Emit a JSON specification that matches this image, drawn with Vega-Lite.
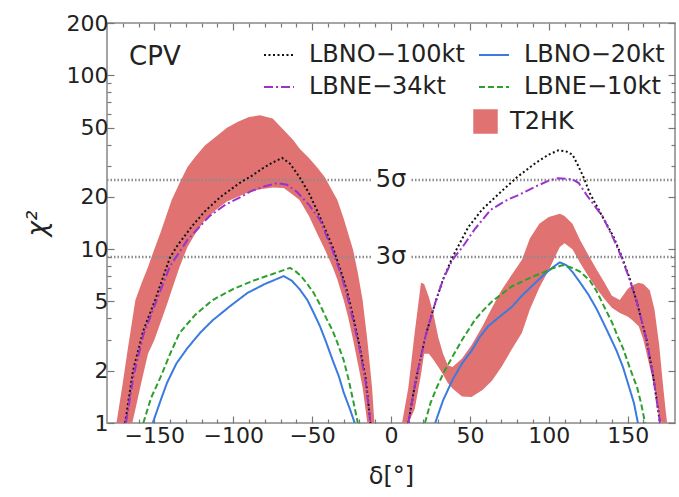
{
  "$schema": "https://vega.github.io/schema/vega-lite/v6.json",
  "width": 568,
  "height": 400,
  "autosize": {"type": "none"},
  "padding": {"left": 107, "top": 23, "right": 4, "bottom": 74},
  "config": {
    "font": "DejaVu Sans",
    "view": {"stroke": "#888888", "strokeWidth": 1.5},
    "axis": {"domain": false, "grid": false, "labelFont": "DejaVu Sans", "labelFontSize": 22, "labelColor": "#222222", "tickColor": "#777777", "tickWidth": 1.2, "titleFont": "DejaVu Sans", "titleFontWeight": "normal", "titleColor": "#222222"}
  },
  "datasets": {
    "band": [
      {"g":"L","d":-174,"lo":1,"hi":1},{"g":"L","d":-170,"lo":1,"hi":1.7},{"g":"L","d":-167,"lo":1,"hi":2.6},{"g":"L","d":-164,"lo":1,"hi":3.9},{"g":"L","d":-162,"lo":1.2,"hi":5.1},{"g":"L","d":-158,"lo":1.75,"hi":6.4},{"g":"L","d":-154,"lo":2.5,"hi":7.9},{"g":"L","d":-150,"lo":3.0,"hi":10},{"g":"L","d":-146,"lo":3.8,"hi":12.5},{"g":"L","d":-142,"lo":4.8,"hi":16},{"g":"L","d":-139,"lo":5.8,"hi":19.2},{"g":"L","d":-134,"lo":7.9,"hi":24},{"g":"L","d":-129,"lo":10.3,"hi":29.7},{"g":"L","d":-124,"lo":12.3,"hi":34},{"g":"L","d":-118,"lo":14.7,"hi":39.5},{"g":"L","d":-111,"lo":16.8,"hi":44.3},{"g":"L","d":-104,"lo":18.8,"hi":50},{"g":"L","d":-97,"lo":20,"hi":54},{"g":"L","d":-90,"lo":21.3,"hi":57.5},{"g":"L","d":-83,"lo":22.1,"hi":59},{"g":"L","d":-75,"lo":22.6,"hi":56.5},{"g":"L","d":-68,"lo":22.5,"hi":48.5},{"g":"L","d":-62,"lo":20.5,"hi":42.5},{"g":"L","d":-58,"lo":19.2,"hi":38},{"g":"L","d":-52,"lo":15.5,"hi":33.5},{"g":"L","d":-47,"lo":12.4,"hi":29.7},{"g":"L","d":-42,"lo":10,"hi":26},{"g":"L","d":-37,"lo":7.9,"hi":21.5},{"g":"L","d":-34,"lo":6.7,"hi":19.2},{"g":"L","d":-30,"lo":5.1,"hi":15},{"g":"L","d":-27,"lo":4.0,"hi":12.2},{"g":"L","d":-24,"lo":3.0,"hi":9.9},{"g":"L","d":-21,"lo":2.2,"hi":7.3},{"g":"L","d":-18,"lo":1.6,"hi":5.1},{"g":"L","d":-15,"lo":1.0,"hi":3.0},{"g":"L","d":-12,"lo":1,"hi":1.6},{"g":"L","d":-10.5,"lo":1,"hi":1},
      {"g":"R","d":7,"lo":1,"hi":1},{"g":"R","d":11,"lo":1,"hi":1.6},{"g":"R","d":15,"lo":1.2,"hi":3.3},{"g":"R","d":19,"lo":1.9,"hi":6.4},{"g":"R","d":21,"lo":2.5,"hi":6.3},{"g":"R","d":24,"lo":2.5,"hi":5.3},{"g":"R","d":27,"lo":2.3,"hi":4.2},{"g":"R","d":30,"lo":2.1,"hi":3.1},{"g":"R","d":33,"lo":1.9,"hi":2.5},{"g":"R","d":36,"lo":1.7,"hi":2.15},{"g":"R","d":39,"lo":1.58,"hi":2.1},{"g":"R","d":45,"lo":1.42,"hi":2.35},{"g":"R","d":51,"lo":1.41,"hi":2.8},{"g":"R","d":58,"lo":1.55,"hi":3.6},{"g":"R","d":64,"lo":1.75,"hi":4.6},{"g":"R","d":70,"lo":2.1,"hi":5.8},{"g":"R","d":76,"lo":2.6,"hi":7.0},{"g":"R","d":83,"lo":3.3,"hi":8.7},{"g":"R","d":88,"lo":4.5,"hi":11.5},{"g":"R","d":94,"lo":6.0,"hi":14},{"g":"R","d":100,"lo":7.6,"hi":15.3},{"g":"R","d":107,"lo":10.3,"hi":16},{"g":"R","d":110,"lo":10.8,"hi":15.5},{"g":"R","d":115,"lo":10.0,"hi":14},{"g":"R","d":120,"lo":8.3,"hi":11.2},{"g":"R","d":125,"lo":7.0,"hi":9.3},{"g":"R","d":130.5,"lo":5.9,"hi":7.6},{"g":"R","d":135,"lo":5.2,"hi":6.5},{"g":"R","d":140,"lo":4.6,"hi":5.4},{"g":"R","d":145,"lo":4.3,"hi":5.1},{"g":"R","d":150,"lo":4.1,"hi":5.9},{"g":"R","d":153,"lo":3.9,"hi":6.2},{"g":"R","d":157,"lo":3.6,"hi":6.4},{"g":"R","d":160,"lo":3.0,"hi":6.3},{"g":"R","d":164,"lo":2.1,"hi":5.8},{"g":"R","d":167,"lo":1.6,"hi":4.5},{"g":"R","d":170,"lo":1.05,"hi":2.8},{"g":"R","d":172,"lo":1,"hi":1.8},{"g":"R","d":174,"lo":1,"hi":1.2},{"g":"R","d":175,"lo":1,"hi":1}
    ],
    "lines": [
      {"s":"LBNO−100kt","g":"L","d":-168.5,"c":1},{"s":"LBNO−100kt","g":"L","d":-163.5,"c":2.0},{"s":"LBNO−100kt","g":"L","d":-157,"c":3.4},{"s":"LBNO−100kt","g":"L","d":-149.5,"c":5.1},{"s":"LBNO−100kt","g":"L","d":-140,"c":9.0},{"s":"LBNO−100kt","g":"L","d":-135,"c":10.6},{"s":"LBNO−100kt","g":"L","d":-126,"c":13.6},{"s":"LBNO−100kt","g":"L","d":-118,"c":16.5},{"s":"LBNO−100kt","g":"L","d":-108,"c":20},{"s":"LBNO−100kt","g":"L","d":-96,"c":24},{"s":"LBNO−100kt","g":"L","d":-88,"c":26.5},{"s":"LBNO−100kt","g":"L","d":-81,"c":29.3},{"s":"LBNO−100kt","g":"L","d":-75,"c":31.5},{"s":"LBNO−100kt","g":"L","d":-69,"c":33.5},{"s":"LBNO−100kt","g":"L","d":-64,"c":31},{"s":"LBNO−100kt","g":"L","d":-58,"c":26},{"s":"LBNO−100kt","g":"L","d":-52,"c":21},{"s":"LBNO−100kt","g":"L","d":-47,"c":16.8},{"s":"LBNO−100kt","g":"L","d":-42,"c":13.2},{"s":"LBNO−100kt","g":"L","d":-37,"c":10.3},{"s":"LBNO−100kt","g":"L","d":-32,"c":7.6},{"s":"LBNO−100kt","g":"L","d":-28,"c":5.8},{"s":"LBNO−100kt","g":"L","d":-24,"c":4.1},{"s":"LBNO−100kt","g":"L","d":-20,"c":2.8},{"s":"LBNO−100kt","g":"L","d":-16,"c":1.8},{"s":"LBNO−100kt","g":"L","d":-13,"c":1},
      {"s":"LBNE−34kt","g":"L","d":-168,"c":1},{"s":"LBNE−34kt","g":"L","d":-163,"c":1.9},{"s":"LBNE−34kt","g":"L","d":-157,"c":3.2},{"s":"LBNE−34kt","g":"L","d":-150,"c":4.7},{"s":"LBNE−34kt","g":"L","d":-140,"c":8.0},{"s":"LBNE−34kt","g":"L","d":-129,"c":11.3},{"s":"LBNE−34kt","g":"L","d":-115,"c":15.5},{"s":"LBNE−34kt","g":"L","d":-105,"c":18},{"s":"LBNE−34kt","g":"L","d":-96,"c":19.8},{"s":"LBNE−34kt","g":"L","d":-89,"c":21.5},{"s":"LBNE−34kt","g":"L","d":-80,"c":23},{"s":"LBNE−34kt","g":"L","d":-72,"c":24},{"s":"LBNE−34kt","g":"L","d":-66,"c":23.5},{"s":"LBNE−34kt","g":"L","d":-60,"c":21.5},{"s":"LBNE−34kt","g":"L","d":-52,"c":18},{"s":"LBNE−34kt","g":"L","d":-45,"c":14.7},{"s":"LBNE−34kt","g":"L","d":-37,"c":9.8},{"s":"LBNE−34kt","g":"L","d":-32,"c":7.3},{"s":"LBNE−34kt","g":"L","d":-28,"c":5.5},{"s":"LBNE−34kt","g":"L","d":-24,"c":3.9},{"s":"LBNE−34kt","g":"L","d":-20,"c":2.7},{"s":"LBNE−34kt","g":"L","d":-16,"c":1.7},{"s":"LBNE−34kt","g":"L","d":-13,"c":1},
      {"s":"LBNO−20kt","g":"L","d":-151,"c":1},{"s":"LBNO−20kt","g":"L","d":-146,"c":1.35},{"s":"LBNO−20kt","g":"L","d":-142,"c":1.7},{"s":"LBNO−20kt","g":"L","d":-136,"c":2.2},{"s":"LBNO−20kt","g":"L","d":-129,"c":2.7},{"s":"LBNO−20kt","g":"L","d":-121,"c":3.3},{"s":"LBNO−20kt","g":"L","d":-113,"c":3.9},{"s":"LBNO−20kt","g":"L","d":-102,"c":4.7},{"s":"LBNO−20kt","g":"L","d":-91,"c":5.6},{"s":"LBNO−20kt","g":"L","d":-80,"c":6.3},{"s":"LBNO−20kt","g":"L","d":-68,"c":7.0},{"s":"LBNO−20kt","g":"L","d":-63,"c":6.6},{"s":"LBNO−20kt","g":"L","d":-58,"c":5.9},{"s":"LBNO−20kt","g":"L","d":-53,"c":5.1},{"s":"LBNO−20kt","g":"L","d":-49,"c":4.3},{"s":"LBNO−20kt","g":"L","d":-45,"c":3.6},{"s":"LBNO−20kt","g":"L","d":-41,"c":2.9},{"s":"LBNO−20kt","g":"L","d":-37,"c":2.3},{"s":"LBNO−20kt","g":"L","d":-33,"c":1.85},{"s":"LBNO−20kt","g":"L","d":-30,"c":1.5},{"s":"LBNO−20kt","g":"L","d":-26,"c":1.2},{"s":"LBNO−20kt","g":"L","d":-23,"c":1},
      {"s":"LBNE−10kt","g":"L","d":-157,"c":1},{"s":"LBNE−10kt","g":"L","d":-152,"c":1.4},{"s":"LBNE−10kt","g":"L","d":-146,"c":1.84},{"s":"LBNE−10kt","g":"L","d":-140,"c":2.5},{"s":"LBNE−10kt","g":"L","d":-134,"c":3.3},{"s":"LBNE−10kt","g":"L","d":-124,"c":4.2},{"s":"LBNE−10kt","g":"L","d":-113,"c":5.1},{"s":"LBNE−10kt","g":"L","d":-100,"c":5.9},{"s":"LBNE−10kt","g":"L","d":-87,"c":6.6},{"s":"LBNE−10kt","g":"L","d":-75,"c":7.2},{"s":"LBNE−10kt","g":"L","d":-64,"c":7.8},{"s":"LBNE−10kt","g":"L","d":-60,"c":7.4},{"s":"LBNE−10kt","g":"L","d":-57,"c":7.0},{"s":"LBNE−10kt","g":"L","d":-53,"c":6.3},{"s":"LBNE−10kt","g":"L","d":-49,"c":5.6},{"s":"LBNE−10kt","g":"L","d":-45,"c":4.8},{"s":"LBNE−10kt","g":"L","d":-41,"c":4.0},{"s":"LBNE−10kt","g":"L","d":-37,"c":3.4},{"s":"LBNE−10kt","g":"L","d":-34,"c":2.9},{"s":"LBNE−10kt","g":"L","d":-30,"c":2.3},{"s":"LBNE−10kt","g":"L","d":-27,"c":1.8},{"s":"LBNE−10kt","g":"L","d":-24,"c":1.35},{"s":"LBNE−10kt","g":"L","d":-21,"c":1},
      {"s":"LBNO−100kt","g":"R","d":11,"c":1},{"s":"LBNO−100kt","g":"R","d":14,"c":1.45},{"s":"LBNO−100kt","g":"R","d":17,"c":2.0},{"s":"LBNO−100kt","g":"R","d":22,"c":3.2},{"s":"LBNO−100kt","g":"R","d":28,"c":4.9},{"s":"LBNO−100kt","g":"R","d":33,"c":6.7},{"s":"LBNO−100kt","g":"R","d":39,"c":9.0},{"s":"LBNO−100kt","g":"R","d":44,"c":11},{"s":"LBNO−100kt","g":"R","d":49,"c":13.4},{"s":"LBNO−100kt","g":"R","d":58,"c":17},{"s":"LBNO−100kt","g":"R","d":70,"c":21.5},{"s":"LBNO−100kt","g":"R","d":80,"c":26},{"s":"LBNO−100kt","g":"R","d":92,"c":31.5},{"s":"LBNO−100kt","g":"R","d":100,"c":35},{"s":"LBNO−100kt","g":"R","d":106,"c":37},{"s":"LBNO−100kt","g":"R","d":111,"c":36.5},{"s":"LBNO−100kt","g":"R","d":115,"c":35},{"s":"LBNO−100kt","g":"R","d":118,"c":31},{"s":"LBNO−100kt","g":"R","d":122,"c":26},{"s":"LBNO−100kt","g":"R","d":126,"c":21},{"s":"LBNO−100kt","g":"R","d":133,"c":16},{"s":"LBNO−100kt","g":"R","d":141,"c":11.8},{"s":"LBNO−100kt","g":"R","d":146,"c":9.2},{"s":"LBNO−100kt","g":"R","d":151,"c":6.9},{"s":"LBNO−100kt","g":"R","d":156,"c":4.9},{"s":"LBNO−100kt","g":"R","d":162,"c":3.0},{"s":"LBNO−100kt","g":"R","d":166,"c":1.9},{"s":"LBNO−100kt","g":"R","d":170.5,"c":1},
      {"s":"LBNE−34kt","g":"R","d":11,"c":1},{"s":"LBNE−34kt","g":"R","d":14,"c":1.45},{"s":"LBNE−34kt","g":"R","d":17,"c":2.0},{"s":"LBNE−34kt","g":"R","d":22,"c":3.2},{"s":"LBNE−34kt","g":"R","d":28,"c":4.9},{"s":"LBNE−34kt","g":"R","d":33,"c":6.7},{"s":"LBNE−34kt","g":"R","d":39,"c":8.7},{"s":"LBNE−34kt","g":"R","d":46,"c":10.5},{"s":"LBNE−34kt","g":"R","d":53,"c":13},{"s":"LBNE−34kt","g":"R","d":63,"c":16.8},{"s":"LBNE−34kt","g":"R","d":74,"c":19.3},{"s":"LBNE−34kt","g":"R","d":80,"c":20.3},{"s":"LBNE−34kt","g":"R","d":92,"c":23},{"s":"LBNE−34kt","g":"R","d":100,"c":24.8},{"s":"LBNE−34kt","g":"R","d":106,"c":25.6},{"s":"LBNE−34kt","g":"R","d":115,"c":25.2},{"s":"LBNE−34kt","g":"R","d":119,"c":24},{"s":"LBNE−34kt","g":"R","d":124,"c":20.5},{"s":"LBNE−34kt","g":"R","d":130,"c":17.3},{"s":"LBNE−34kt","g":"R","d":134,"c":15.5},{"s":"LBNE−34kt","g":"R","d":141,"c":11.5},{"s":"LBNE−34kt","g":"R","d":146,"c":9.0},{"s":"LBNE−34kt","g":"R","d":151,"c":6.8},{"s":"LBNE−34kt","g":"R","d":156,"c":4.9},{"s":"LBNE−34kt","g":"R","d":162,"c":3.0},{"s":"LBNE−34kt","g":"R","d":166,"c":1.9},{"s":"LBNE−34kt","g":"R","d":170.5,"c":1},
      {"s":"LBNO−20kt","g":"R","d":28,"c":1},{"s":"LBNO−20kt","g":"R","d":33,"c":1.35},{"s":"LBNO−20kt","g":"R","d":39,"c":1.77},{"s":"LBNO−20kt","g":"R","d":45,"c":2.2},{"s":"LBNO−20kt","g":"R","d":51,"c":2.6},{"s":"LBNO−20kt","g":"R","d":56,"c":3.1},{"s":"LBNO−20kt","g":"R","d":61.5,"c":3.6},{"s":"LBNO−20kt","g":"R","d":69,"c":4.1},{"s":"LBNO−20kt","g":"R","d":76.5,"c":4.65},{"s":"LBNO−20kt","g":"R","d":83,"c":5.4},{"s":"LBNO−20kt","g":"R","d":89,"c":6.1},{"s":"LBNO−20kt","g":"R","d":96,"c":7.0},{"s":"LBNO−20kt","g":"R","d":102,"c":7.8},{"s":"LBNO−20kt","g":"R","d":107,"c":8.4},{"s":"LBNO−20kt","g":"R","d":111,"c":8.1},{"s":"LBNO−20kt","g":"R","d":115,"c":7.4},{"s":"LBNO−20kt","g":"R","d":120,"c":6.4},{"s":"LBNO−20kt","g":"R","d":125,"c":5.5},{"s":"LBNO−20kt","g":"R","d":130.5,"c":4.5},{"s":"LBNO−20kt","g":"R","d":137,"c":3.4},{"s":"LBNO−20kt","g":"R","d":143,"c":2.6},{"s":"LBNO−20kt","g":"R","d":147,"c":2.1},{"s":"LBNO−20kt","g":"R","d":151,"c":1.6},{"s":"LBNO−20kt","g":"R","d":154,"c":1.3},{"s":"LBNO−20kt","g":"R","d":156.5,"c":1},
      {"s":"LBNE−10kt","g":"R","d":21.5,"c":1},{"s":"LBNE−10kt","g":"R","d":25,"c":1.3},{"s":"LBNE−10kt","g":"R","d":29,"c":1.6},{"s":"LBNE−10kt","g":"R","d":34,"c":2.0},{"s":"LBNE−10kt","g":"R","d":40,"c":2.5},{"s":"LBNE−10kt","g":"R","d":45,"c":3.0},{"s":"LBNE−10kt","g":"R","d":53,"c":3.9},{"s":"LBNE−10kt","g":"R","d":58,"c":4.4},{"s":"LBNE−10kt","g":"R","d":64,"c":5.0},{"s":"LBNE−10kt","g":"R","d":70,"c":5.5},{"s":"LBNE−10kt","g":"R","d":76.5,"c":6.1},{"s":"LBNE−10kt","g":"R","d":83,"c":6.5},{"s":"LBNE−10kt","g":"R","d":89,"c":6.9},{"s":"LBNE−10kt","g":"R","d":96,"c":7.3},{"s":"LBNE−10kt","g":"R","d":103,"c":7.8},{"s":"LBNE−10kt","g":"R","d":109,"c":8.1},{"s":"LBNE−10kt","g":"R","d":115,"c":7.8},{"s":"LBNE−10kt","g":"R","d":120,"c":7.4},{"s":"LBNE−10kt","g":"R","d":126,"c":6.6},{"s":"LBNE−10kt","g":"R","d":130,"c":5.8},{"s":"LBNE−10kt","g":"R","d":134,"c":4.9},{"s":"LBNE−10kt","g":"R","d":140,"c":3.8},{"s":"LBNE−10kt","g":"R","d":144,"c":3.1},{"s":"LBNE−10kt","g":"R","d":147,"c":2.7},{"s":"LBNE−10kt","g":"R","d":152,"c":2.0},{"s":"LBNE−10kt","g":"R","d":156,"c":1.6},{"s":"LBNE−10kt","g":"R","d":158.5,"c":1.3},{"s":"LBNE−10kt","g":"R","d":161,"c":1}
    ],
    "rules": [
      {"x1": -180, "x2": -12, "v": 25}, {"x1": 13, "x2": 180, "v": 25},
      {"x1": -180, "x2": -12, "v": 9}, {"x1": 13, "x2": 180, "v": 9}
    ],
    "labels": [
      {"d": 0, "v": 25, "t": "5σ"}, {"d": 0, "v": 9, "t": "3σ"}
    ],
    "tag": [{"d": -166, "v": 128, "t": "CPV"}]
  },
  "resolve": {"axis": {"x": "independent", "y": "independent"}},
  "layer": [
    {
      "data": {"name": "band"},
      "transform": [{"calculate": "'T2HK'", "as": "name"}],
      "mark": {"type": "area", "clip": true, "opacity": 1},
      "encoding": {
        "x": {"field": "d", "type": "quantitative", "scale": {"domain": [-180, 180], "nice": false, "zero": false},
          "axis": {"orient": "bottom", "values": [-170,-160,-150,-140,-130,-120,-110,-100,-90,-80,-70,-60,-50,-40,-30,-20,-10,0,10,20,30,40,50,60,70,80,90,100,110,120,130,140,150,160,170],
            "labelExpr": "datum.value % 50 === 0 ? replace(format(datum.value, 'd'), '-', '−') : ''",
            "tickSize": {"condition": {"test": "datum.value % 50 === 0", "value": -7}, "value": -4},
            "labelPadding": 9, "title": "δ[°]", "titleFontSize": 24, "titlePadding": 18}},
        "y": {"field": "lo", "type": "quantitative", "scale": {"type": "log", "domain": [1, 200], "nice": false},
          "axis": {"orient": "left", "values": [1,2,3,4,5,6,7,8,9,10,20,30,40,50,60,70,80,90,100,200],
            "labelExpr": "(datum.value===1||datum.value===2||datum.value===5||datum.value===10||datum.value===20||datum.value===50||datum.value===100||datum.value===200) ? format(datum.value, 'd') : ''",
            "tickSize": {"condition": {"test": "datum.value===1||datum.value===2||datum.value===5||datum.value===10||datum.value===20||datum.value===50||datum.value===100||datum.value===200", "value": -7}, "value": -4},
            "labelPadding": 6, "title": "χ²", "titleFontSize": 26, "titleFontStyle": "italic", "titlePadding": 16}},
        "y2": {"field": "hi"},
        "detail": {"field": "g"},
        "fill": {"field": "name", "type": "nominal", "scale": {"range": ["#e07272"]},
          "legend": {"orient": "none", "legendX": 366, "legendY": 86, "title": null, "symbolType": "square", "symbolSize": 600, "symbolStrokeWidth": 0, "symbolOpacity": 1, "labelFontSize": 24, "labelFont": "DejaVu Sans", "labelColor": "#222222", "labelOffset": 12, "padding": 0}}
      }
    },
    {
      "data": {"name": "rules"},
      "mark": {"type": "rule", "color": "#8c8c8c", "strokeWidth": 2.5, "strokeDash": [1.5, 2]},
      "encoding": {
        "x": {"field": "x1", "type": "quantitative", "axis": null},
        "x2": {"field": "x2"},
        "y": {"field": "v", "type": "quantitative", "axis": null}
      }
    },
    {
      "data": {"name": "lines"},
      "mark": {"type": "line", "clip": true, "strokeWidth": 2},
      "encoding": {
        "x": {"field": "d", "type": "quantitative",
          "axis": {"orient": "top", "values": [-170,-160,-150,-140,-130,-120,-110,-100,-90,-80,-70,-60,-50,-40,-30,-20,-10,0,10,20,30,40,50,60,70,80,90,100,110,120,130,140,150,160,170], "labels": false, "title": null,
            "tickSize": {"condition": {"test": "datum.value % 50 === 0", "value": -7}, "value": -4}}},
        "y": {"field": "c", "type": "quantitative",
          "axis": {"orient": "right", "values": [1,2,3,4,5,6,7,8,9,10,20,30,40,50,60,70,80,90,100,200], "labels": false, "title": null,
            "tickSize": {"condition": {"test": "datum.value===1||datum.value===2||datum.value===5||datum.value===10||datum.value===20||datum.value===50||datum.value===100||datum.value===200", "value": -7}, "value": -4}}},
        "detail": {"field": "g"},
        "stroke": {"field": "s", "type": "nominal",
          "scale": {"domain": ["LBNO−100kt", "LBNE−34kt", "LBNO−20kt", "LBNE−10kt"], "range": ["#111111", "#9a33cc", "#3a7be0", "#2ca02c"]},
          "legend": {"orient": "none", "legendX": 156, "legendY": 16, "columns": 2, "title": null, "symbolType": "stroke", "symbolSize": 900, "symbolStrokeWidth": 2, "labelFontSize": 24, "labelFont": "DejaVu Sans", "labelColor": "#222222", "labelOffset": 14, "columnPadding": 10, "rowPadding": 4, "padding": 0}},
        "strokeDash": {"field": "s", "type": "nominal",
          "scale": {"domain": ["LBNO−100kt", "LBNE−34kt", "LBNO−20kt", "LBNE−10kt"], "range": [[2, 2.5], [9, 3, 2, 3], [1, 0], [6, 3]]},
          "legend": {"orient": "none", "legendX": 156, "legendY": 16, "columns": 2, "title": null, "symbolType": "stroke", "symbolSize": 900, "symbolStrokeWidth": 2, "labelFontSize": 24, "labelFont": "DejaVu Sans", "labelColor": "#222222", "labelOffset": 14, "columnPadding": 10, "rowPadding": 4, "padding": 0}}
      }
    },
    {
      "data": {"name": "labels"},
      "mark": {"type": "text", "fontSize": 24, "font": "DejaVu Sans", "color": "#222222", "align": "center", "baseline": "middle"},
      "encoding": {
        "x": {"field": "d", "type": "quantitative", "axis": null},
        "y": {"field": "v", "type": "quantitative", "axis": null},
        "text": {"field": "t"}
      }
    },
    {
      "data": {"name": "tag"},
      "mark": {"type": "text", "fontSize": 26, "font": "DejaVu Sans", "color": "#222222", "align": "left", "baseline": "middle"},
      "encoding": {
        "x": {"field": "d", "type": "quantitative", "axis": null},
        "y": {"field": "v", "type": "quantitative", "axis": null},
        "text": {"field": "t"}
      }
    }
  ]
}
